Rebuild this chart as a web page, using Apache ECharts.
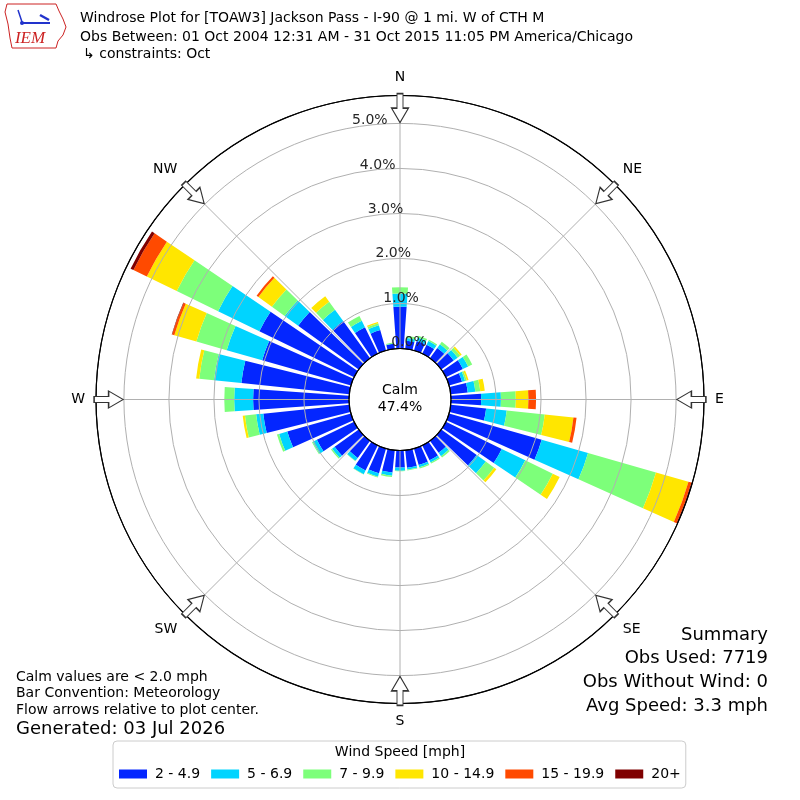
<!DOCTYPE html>
<html>
<head>
<meta charset="utf-8">
<script src="https://cdn.jsdelivr.net/npm/echarts@6/dist/echarts.min.js"></script>
<style>
html,body{margin:0;padding:0;background:#fff;}
#c{width:800px;height:800px;}
</style>
</head>
<body>
<div id="c"></div>
<script>
// ---------------- data ----------------
const directions = [0,10,20,30,40,50,60,70,80,90,100,110,120,130,140,150,160,170,180,190,200,210,220,230,240,250,260,270,280,290,300,310,320,330,340,350];
const speedBins = ['2 - 4.9','5 - 6.9','7 - 9.9','10 - 14.9','15 - 19.9','20+'];
const binColors = ['#0426ff','#00d4ff','#7dff7a','#ffe600','#ff4a00','#7f0000'];
// percent of observations per direction for each speed bin
const bin2to5   = [0.93,0.18,0.22,0.22,0.28,0.34,0.42,0.30,0.38,0.67,0.79,2.14,1.38,0.97,0.33,0.37,0.38,0.39,0.38,0.50,0.57,0.62,0.47,0.66,0.92,1.47,1.92,2.13,2.41,2.05,2.34,1.66,1.02,0.65,0.47,0.11];
const bin5to7   = [0.29,0.06,0.08,0.09,0.10,0.11,0.13,0.07,0.17,0.44,0.46,1.07,0.58,0.25,0.09,0.05,0.05,0.04,0.07,0.07,0.08,0.09,0.08,0.07,0.10,0.19,0.16,0.42,0.61,0.82,1.02,0.37,0.31,0.16,0.11,0.01];
const bin7to10  = [0.14,0.05,0.04,0.03,0.07,0.07,0.10,0.04,0.11,0.33,0.85,1.57,0.68,0.23,0.04,0.03,0.03,0.02,0.01,0.03,0.02,0.01,0.01,0.03,0.02,0.05,0.25,0.22,0.33,0.70,1.02,0.35,0.22,0.12,0.05,0.02];
const bin10to15 = [0,0,0,0,0,0.04,0,0.04,0.10,0.28,0.64,0.75,0.17,0.06,0,0,0,0,0,0,0,0,0,0,0,0,0.05,0,0.07,0.51,0.74,0.37,0.15,0,0.03,0];
const bin15to20 = [0,0,0,0,0,0,0,0,0,0.17,0.07,0.07,0,0,0,0,0,0,0,0,0,0,0,0,0,0,0,0,0,0.05,0.33,0.05,0,0,0,0];
const bin20plus = [0,0,0,0,0,0,0,0,0,0,0,0.02,0,0,0,0,0,0,0,0,0,0,0,0,0,0,0,0,0,0.01,0.07,0,0,0,0,0];
const binValues = [bin2to5, bin5to7, bin7to10, bin10to15, bin15to20, bin20plus];

const compassNames  = ['N','NE','E','SE','S','SW','W','NW'];
const compassAngles = [0,45,90,135,180,225,270,315];
const radiusMax = 5.62;      // percent at outer circle
const radiusTickStep = 1;    // percent between rings
const radiusTicks = [0,1,2,3,4,5];
const arrowRadius = 5.34;    // percent where flow arrows sit
const calmPct = 47.4;

const titleLines = [
  'Windrose Plot for [TOAW3] Jackson Pass - I-90 @ 1 mi. W of CTH M',
  'Obs Between: 01 Oct 2004 12:31 AM - 31 Oct 2015 11:05 PM America/Chicago',
  '\u21b3 constraints: Oct'
];
const noteLines = ['Calm values are < 2.0 mph','Bar Convention: Meteorology','Flow arrows relative to plot center.'];
const generatedLine = 'Generated: 03 Jul 2026';
const summaryLines = ['Summary','Obs Used: 7719','Obs Without Wind: 0','Avg Speed: 3.3 mph'];
const legendTitle = 'Wind Speed [mph]';

// ---------------- chart ----------------
const FONT = 'DejaVu Sans';
const CX = 400, CY = 399.5, R0 = 51, R1 = 304;
const chart = echarts.init(document.getElementById('c'), null, {renderer:'canvas', width:800, height:800});
const polarBox = {center:[CX, CY], radius:[R0, R1]};

function txt(x, y, text, size, align, extra) {
  return Object.assign({
    type:'text', x:x, y:y, silent:true, z:10,
    style:{text:text, fontSize:size, fontFamily:FONT, fill:'#000',
      align:align, textAlign:align, verticalAlign:'middle', textVerticalAlign:'middle'}
  }, extra || {});
}

const graphics = [];
graphics.push(txt(80, 18.5, titleLines[0], 14, 'left'));
graphics.push(txt(80, 37, titleLines[1], 14, 'left'));
graphics.push(txt(83, 54, titleLines[2], 14, 'left'));
noteLines.forEach((t, i) => graphics.push(txt(16, 677 + i * 16.7, t, 14, 'left')));
graphics.push(txt(16, 729, generatedLine, 18, 'left'));
summaryLines.forEach((t, i) => graphics.push(txt(768, 635 + i * 23.7, t, 18, 'right')));
graphics.push(txt(CX, 752.5, legendTitle, 14, 'center'));
graphics.push({type:'text', x:CX, y:CY - 1, silent:true, z:10,
  style:{text:'Calm\n' + calmPct.toFixed(1) + '%', fontSize:14, fontFamily:FONT, fill:'#000', lineHeight:17,
    align:'center', textAlign:'center', verticalAlign:'middle', textVerticalAlign:'middle'}});
// IEM logo (decoration)
graphics.push({type:'polygon', silent:true, z:10,
  shape:{points:[[7,4],[56,4],[59,11],[63,19],[66,27],[63,35],[58,41],[56,48],[12,48],[10,38],[8,24],[5,12]]},
  style:{fill:'none', stroke:'#cc2222', lineWidth:1}});
graphics.push({type:'line', silent:true, z:10, shape:{x1:22, y1:23, x2:50, y2:23}, style:{stroke:'#2233cc', lineWidth:2}});
graphics.push({type:'line', silent:true, z:10, shape:{x1:40, y1:15, x2:49, y2:20}, style:{stroke:'#2233cc', lineWidth:2.5}});
graphics.push({type:'line', silent:true, z:10, shape:{x1:18, y1:10, x2:22, y2:22}, style:{stroke:'#2233cc', lineWidth:1.5}});
graphics.push({type:'circle', silent:true, z:10, shape:{cx:22, cy:23, r:2}, style:{fill:'#2233cc'}});
graphics.push({type:'text', x:30, y:39, silent:true, z:10,
  style:{text:'IEM', fontSize:17, fontStyle:'italic', fontFamily:'Liberation Serif', fill:'#cc2222',
    align:'center', textAlign:'center', verticalAlign:'middle', textVerticalAlign:'middle'}});

const barSeries = speedBins.map((name, k) => ({
  type:'bar', name:name, coordinateSystem:'polar', polarIndex:0, stack:'wind',
  data:binValues[k], barCategoryGap:'18%', silent:true, z:2,
  itemStyle:{color:binColors[k]}
}));

const arrowSeries = {
  type:'scatter', coordinateSystem:'polar', polarIndex:1, silent:true, z:6,
  data:compassAngles.map(a => [arrowRadius, a]),
  symbol:'path://M5.5,0 L11.5,0 L11.5,15 L17,15 L8.5,30 L0,15 L5.5,15 Z',
  symbolSize:[17, 29],
  symbolRotate:function (val) { return -val[1]; },
  itemStyle:{color:'#ffffff', borderColor:'#333333', borderWidth:1.2, opacity:1}
};

const ringColors = radiusTicks.map(v => v === 0 ? '#000000' : '#b0b0b0');

const option = {
  animation:false,
  backgroundColor:'#ffffff',
  textStyle:{fontFamily:FONT},
  polar:[polarBox, polarBox, polarBox],
  angleAxis:[
    {polarIndex:0, type:'category', data:directions.map(String), startAngle:95, clockwise:true, boundaryGap:true, show:false},
    {polarIndex:1, type:'value', min:0, max:360, interval:45, startAngle:90, clockwise:true, z:4,
      axisLine:{show:true, lineStyle:{color:'#000000', width:1.2}},
      axisTick:{show:false},
      splitLine:{show:true, lineStyle:{color:'#b0b0b0', width:1}},
      axisLabel:{show:true, margin:11, fontSize:14, color:'#000000', fontFamily:FONT,
        formatter:function (v) { const i = compassAngles.indexOf(Number(v)); return (i >= 0) ? compassNames[i] : ''; }}
    },
    {polarIndex:2, type:'value', min:0, max:360, startAngle:100, clockwise:true, show:false}
  ],
  radiusAxis:[
    {polarIndex:0, type:'value', min:0, max:radiusMax, show:false},
    {polarIndex:1, type:'value', min:0, max:radiusMax, interval:radiusTickStep, z:4,
      axisLine:{show:false}, axisTick:{show:false}, axisLabel:{show:false},
      splitLine:{show:true, lineStyle:{color:ringColors, width:1}}},
    {polarIndex:2, type:'value', min:0, max:radiusMax, interval:radiusTickStep, z:5,
      axisLine:{show:false}, axisTick:{show:false}, splitLine:{show:false},
      axisLabel:{show:true, showMaxLabel:false, margin:0, align:'left', verticalAlign:'bottom', fontSize:14, color:'#262626', fontFamily:FONT,
        formatter:function (v) { return radiusTicks.indexOf(Number(v)) >= 0 ? Number(v).toFixed(1) + '%' : ''; }}}
  ],
  legend:{
    left:113, top:741, orient:'horizontal', selectedMode:false,
    padding:[26, 5, 7, 6], itemWidth:28, itemHeight:9, itemGap:11, icon:'rect',
    borderColor:'#cccccc', borderWidth:1, borderRadius:4,
    textStyle:{fontSize:14, color:'#000000', fontFamily:FONT, lineHeight:14, padding:[0,0,0,3]},
    data:speedBins
  },
  series:barSeries.concat([arrowSeries]),
  graphic:graphics
};
chart.setOption(option);
</script>
</body>
</html>
